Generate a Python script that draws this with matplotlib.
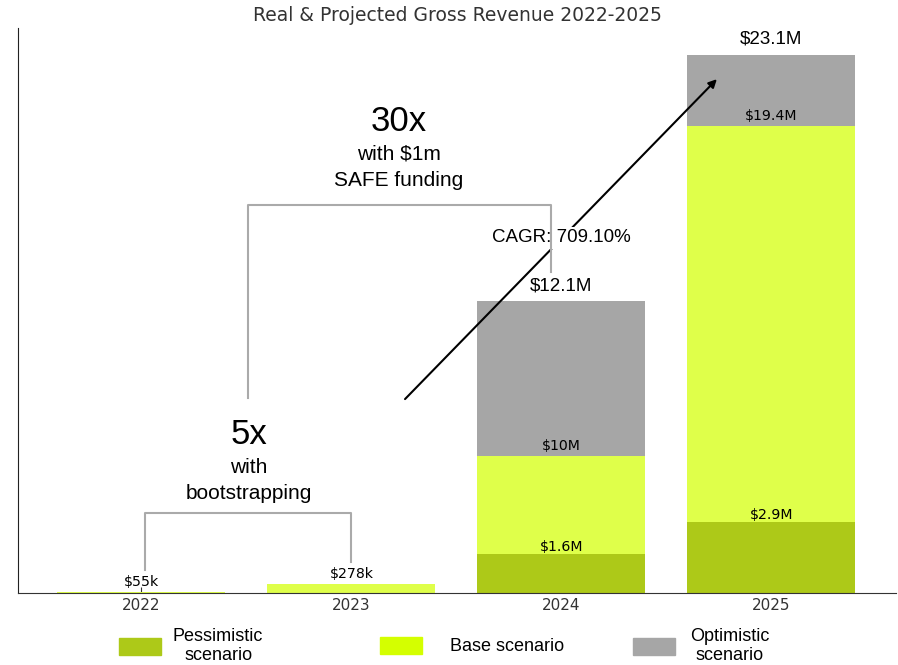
import matplotlib
matplotlib.use("Agg")
import matplotlib.pyplot as plt
from matplotlib.patches import Patch

# values in $M
years = ["2022", "2023", "2024", "2025"]
pessimistic = [0, 0, 1.68, 3.05]
base = [0.06, 0.39, 5.9, 20.1]
optimistic = [0, 0, 12.55, 23.15]

# label texts printed above the bars
pess_labels = ["", "", "$1.6M", "$2.9M"]
base_labels = ["$55k", "$278k", "$10M", "$19.4M"]
opt_labels = ["", "", "$12.1M", "$23.1M"]

scenario_names = ["Pessimistic\nscenario", "Base scenario", "Optimistic\nscenario"]
bar_colors = ["#adc918", "#dfff4a", "#a6a6a6"]
legend_colors = ["#adc918", "#d4ff00", "#a6a6a6"]

ARIAL = "Liberation Sans"

fig = plt.figure(figsize=(8.98, 6.65), dpi=100)
ax = fig.add_axes([18 / 898, 72 / 665, 878 / 898, 565 / 665])

x = list(range(len(years)))
ax.bar(x, optimistic, width=0.8, color=bar_colors[2], zorder=2)
ax.bar(x, base, width=0.8, color=bar_colors[1], zorder=2)
ax.bar(x, pessimistic, width=0.8, color=bar_colors[0], zorder=2)

ax.set_xlim(-0.588, 3.593)
ax.set_ylim(0, 24.3)

# small value labels (DejaVu)
for i in x:
    if pess_labels[i]:
        ax.annotate(pess_labels[i], (i, pessimistic[i]), xytext=(0, 0), textcoords="offset points",
                    ha="center", va="bottom", fontsize=10.2, zorder=4)
    ax.annotate(base_labels[i], (i, base[i]), xytext=(0, 2), textcoords="offset points",
                ha="center", va="bottom", fontsize=10.2, zorder=4)
    if opt_labels[i]:
        ax.annotate(opt_labels[i], (i, optimistic[i]), xytext=(0, 5), textcoords="offset points",
                    ha="center", va="bottom", fontsize=13.5, family=ARIAL, zorder=4,
                    bbox=dict(boxstyle="square,pad=0.1", fc="white", ec="none"))

# growth arrow
ax.annotate("", xy=(2.74, 22.1), xytext=(1.255, 8.34),
            arrowprops=dict(arrowstyle="-|>", color="black", lw=1.5,
                            mutation_scale=12, shrinkA=0, shrinkB=0), zorder=3)
ax.text(1.998, 15.27, "CAGR: 709.10%", ha="center", va="center", fontsize=13.5,
        family=ARIAL, zorder=4, bbox=dict(boxstyle="square,pad=0.15", fc="white", ec="none"))

# brackets
ax.plot([0.017, 0.017, 1.0, 1.0], [0.99, 3.44, 3.44, 1.33], color="#aaaaaa", lw=1.5, zorder=5)
ax.plot([0.507, 0.507, 1.95, 1.95], [8.39, 16.69, 16.69, 13.81], color="#aaaaaa", lw=1.5, zorder=5)

ax.text(0.512, 6.80, "5x", ha="center", va="center", fontsize=25, family=ARIAL)
ax.text(0.512, 5.38, "with", ha="center", va="center", fontsize=15, family=ARIAL)
ax.text(0.512, 4.30, "bootstrapping", ha="center", va="center", fontsize=15, family=ARIAL)
ax.text(1.226, 20.26, "30x", ha="center", va="center", fontsize=25, family=ARIAL)
ax.text(1.226, 18.88, "with $1m", ha="center", va="center", fontsize=15, family=ARIAL)
ax.text(1.226, 17.76, "SAFE funding", ha="center", va="center", fontsize=15, family=ARIAL)

ax.set_title("Real & Projected Gross Revenue 2022-2025", fontsize=13.5, color="#333333", pad=5)

ax.set_xticks(x)
ax.set_xticklabels(years, fontsize=11, color="#333333")
ax.tick_params(axis="x", direction="in", length=4, color="#333333")
ax.set_yticks([])
ax.spines["top"].set_visible(False)
ax.spines["right"].set_visible(False)
ax.spines["bottom"].set_color("#333333")
ax.spines["left"].set_color("#222222")

# legend, one entry each so they can sit where the original has them
anchors = [119 / 898, 380 / 898, 633 / 898]
pads = [0.66, 1.55, 0.83]
for name, col, ax_x, pad in zip(scenario_names, legend_colors, anchors, pads):
    leg = fig.legend(handles=[Patch(color=col)], labels=[name], loc="center left",
                     bbox_to_anchor=(ax_x, 0.0286), frameon=False, borderpad=0,
                     borderaxespad=0, handlelength=2.33, handleheight=1.1,
                     handletextpad=pad, prop={"family": ARIAL, "size": 13})
    for t in leg.get_texts():
        t.set_multialignment("center")

fig.savefig("out.png", dpi=100)
